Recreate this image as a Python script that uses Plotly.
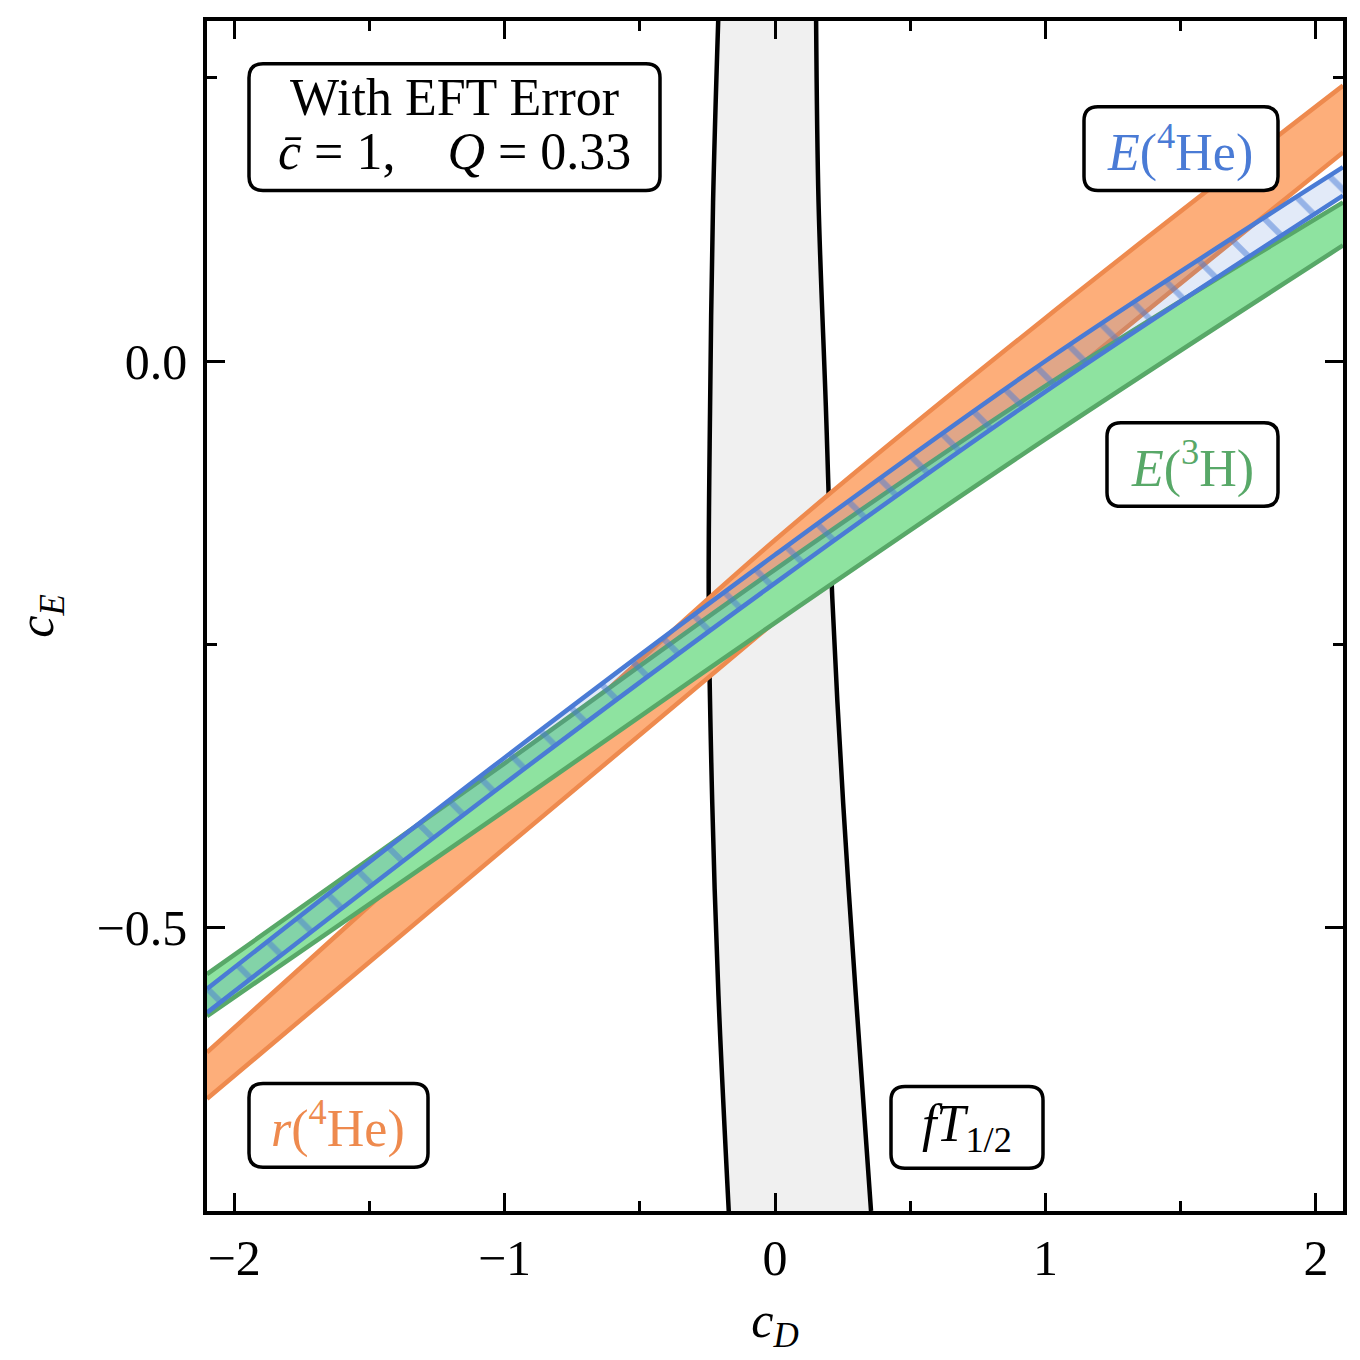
import plotly.graph_objects as go

cd_pts = [-2.1, -1.0, 0.0, 1.0, 2.1]

# r(4He) band
r4he_upper = [-0.610, -0.373, -0.158, 0.038, 0.243]
r4he_lower = [-0.651, -0.430, -0.230, -0.029, 0.184]

# E(3H) band
e3h_upper = [-0.541, -0.355, -0.184, -0.022, 0.140]
e3h_lower = [-0.578, -0.397, -0.231, -0.069, 0.102]

# E(4He) band
e4he_upper = [-0.554, -0.350, -0.171, 0.000, 0.171]
e4he_lower = [-0.575, -0.373, -0.196, -0.027, 0.146]

# fT_1/2 band, read along c_E
ce_pts = [0.30, 0.14, -0.04, -0.21, -0.39, -0.56, -0.75]
ft_left = [-0.210, -0.229, -0.240, -0.245, -0.232, -0.209, -0.171]
ft_right = [0.152, 0.161, 0.188, 0.212, 0.252, 0.299, 0.355]

# ticks
x_major = [-2, -1, 0, 1, 2]
x_major_text = ["\u22122", "\u22121", "0", "1", "2"]
x_minor = [-1.5, -0.5, 0.5, 1.5]
y_major = [-0.5, 0.0]
y_major_text = ["\u22120.5", "0.0"]
y_minor = [-0.25, 0.25]

FONT = "Liberation Serif"
ORANGE, ORANGE_FILL = "#ee8a4e", "#fdae7a"
GREEN, GREEN_FILL = "#58a868", "#8ee3a0"
BLUE, BLUE_FILL = "#4a7bd5", "rgba(74,123,213,0.16)"

# page offset (browser body margin) and figure size
OFF = 8
FIG_W, FIG_H = 1352, 1352
# plot area in screen pixels (for placing the label boxes)
L, R, T, B = 207, 1343, 17, 1211


def px(x):
    return (x - L) / (R - L)


def py(y):
    return (B - y) / (B - T)


def rbox(x0, y0, x1, y1, r=14):
    pts = [
        ("M", x0 + r, y0), ("L", x1 - r, y0), ("Q", x1, y0, x1, y0 + r),
        ("L", x1, y1 - r), ("Q", x1, y1, x1 - r, y1),
        ("L", x0 + r, y1), ("Q", x0, y1, x0, y1 - r),
        ("L", x0, y0 + r), ("Q", x0, y0, x0 + r, y0),
    ]
    path = ""
    for p in pts:
        cmd = p[0]
        coords = p[1:]
        seg = []
        for i in range(0, len(coords), 2):
            seg.append(f"{px(coords[i]):.5f},{py(coords[i + 1]):.5f}")
        path += cmd + " " + " ".join(seg) + " "
    return path + "Z"


fig = go.Figure()


def band(xs_a, ys_a, xs_b, ys_b, fill, edge, mode="tonexty", pattern=None):
    # invisible first edge, then second edge filled back to it
    fig.add_trace(go.Scatter(x=xs_a, y=ys_a, mode="lines",
                             line=dict(width=0, shape="spline"),
                             hoverinfo="skip", showlegend=False))
    kw = dict(x=xs_b, y=ys_b, mode="lines", fill=mode, fillcolor=fill,
              line=dict(width=0, shape="spline"), hoverinfo="skip",
              showlegend=False)
    if pattern:
        kw["fillpattern"] = pattern
    fig.add_trace(go.Scatter(**kw))
    for xs, ys in [(xs_a, ys_a), (xs_b, ys_b)]:
        fig.add_trace(go.Scatter(x=xs, y=ys, mode="lines",
                                 line=dict(color=edge, width=4.5,
                                           shape="spline"),
                                 hoverinfo="skip", showlegend=False))


# fT_1/2 (vertical band)
band(ft_left, ce_pts, ft_right, ce_pts, "#f0f0f0", "black", mode="tonextx")
# r(4He)
band(cd_pts, r4he_lower, cd_pts, r4he_upper, ORANGE_FILL, ORANGE)
# E(3H)
band(cd_pts, e3h_lower, cd_pts, e3h_upper, GREEN_FILL, GREEN)
# E(4He), hatched
band(cd_pts, e4he_lower, cd_pts, e4he_upper, BLUE_FILL, BLUE,
     pattern=dict(shape="\\", size=38, solidity=0.16,
                  fgcolor=BLUE, bgcolor=BLUE_FILL, fillmode="overlay"))

# rounded label boxes
boxes = [
    (249, 60, 660, 187),
    (1084, 103, 1278, 187),
    (1107, 420, 1278, 504),
    (249, 1083, 428, 1167),
    (891, 1086, 1043, 1168),
]
for b in boxes:
    fig.add_shape(type="path", path=rbox(*b), xref="paper", yref="paper",
                  line=dict(color="black", width=3.5), fillcolor="white",
                  layer="above")

labels = [
    ("With EFT Error", 454, 93, "black", 54),
    ("<i>c\u0304</i> = 1,    <i>Q</i> = 0.33", 454, 147, "black", 54),
    ("<i>E</i>(<sup>4</sup>He)", 1180, 145, BLUE, None),
    ("<i>E</i>(<sup>3</sup>H)", 1192, 462, GREEN, None),
    ("<i>r</i>(<sup>4</sup>He)", 338, 1125, ORANGE, None),
    ("<i>fT</i><sub>1/2</sub>", 967, 1127, "black", None),
]
for text, cx, cy, col, h in labels:
    fig.add_annotation(text=text, x=px(cx), y=py(cy), xref="paper",
                       yref="paper", xanchor="center", yanchor="middle",
                       showarrow=False, height=h, valign="middle",
                       font=dict(family=FONT, size=52, color=col))

axis_common = dict(
    showgrid=False, zeroline=False, showline=True, linecolor="black",
    linewidth=3.5, mirror="allticks", ticks="inside", ticklen=18,
    tickwidth=3, tickcolor="black",
    tickfont=dict(family=FONT, size=50, color="black"),
)

fig.update_xaxes(
    range=[-2.1, 2.1], tickvals=x_major, ticktext=x_major_text,
    ticklabelstandoff=0,
    minor=dict(tickvals=x_minor, ticks="inside", ticklen=10, tickwidth=2.5,
               tickcolor="black", showgrid=False),
    title=dict(text="<i>c<sub>D</sub></i>",
               font=dict(family=FONT, size=50, color="black"), standoff=18),
    **axis_common,
)
fig.update_yaxes(
    range=[-0.75, 0.3], tickvals=y_major, ticktext=y_major_text,
    ticklabelstandoff=6,
    minor=dict(tickvals=y_minor, ticks="inside", ticklen=10, tickwidth=2.5,
               tickcolor="black", showgrid=False),
    title=dict(text="<i>c<sub>E</sub></i>",
               font=dict(family=FONT, size=50, color="black"), standoff=36),
    **axis_common,
)

fig.update_layout(
    width=FIG_W, height=FIG_H, autosize=False,
    margin=dict(l=L - OFF, r=FIG_W - (R - OFF), t=T - OFF,
                b=FIG_H - (B - OFF)),
    plot_bgcolor="white", paper_bgcolor="white",
    showlegend=False,
)

fig.write_html("out.html")
